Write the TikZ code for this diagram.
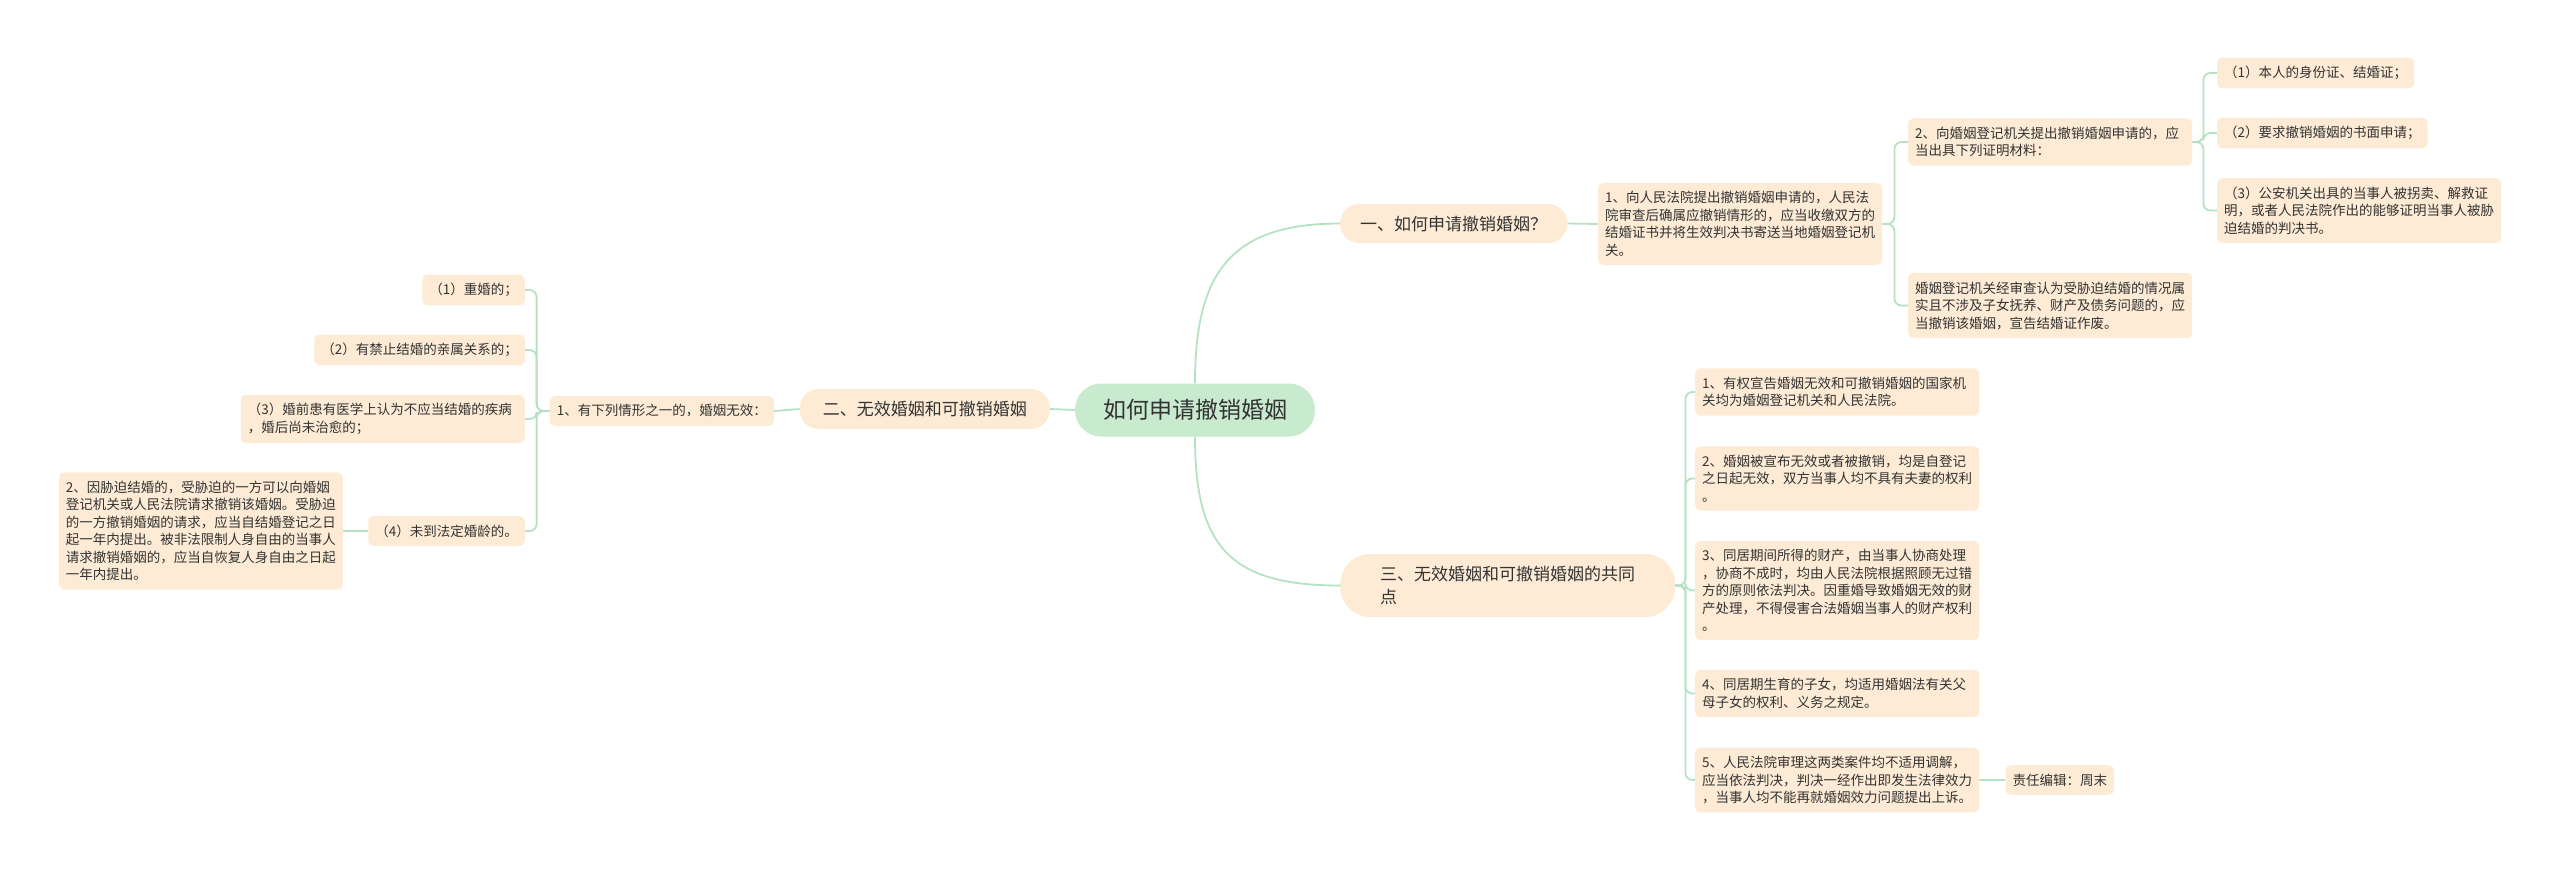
\documentclass[tikz,border=0pt]{standalone}
\usepackage{fontspec}
\setmainfont{Noto Sans CJK SC}
\usetikzlibrary{positioning}
\definecolor{peach}{HTML}{FDEBD5}
\definecolor{mint}{HTML}{C8EACE}
\definecolor{wire}{HTML}{B6E2C4}
\definecolor{ink}{HTML}{333333}

\begin{document}
\begin{tikzpicture}[x=1pt, y=-1pt,
  leaf/.style={fill=peach, rounded corners=5pt, inner xsep=7pt, inner ysep=8.5pt, align=left, text=ink, font=\fontsize{13.5pt}{17.5pt}\selectfont},
  longleaf/.style={leaf, text width=270pt},
  topic/.style={fill=peach, rounded corners=19pt, inner sep=0pt, align=left, text=ink, font=\fontsize{17pt}{23pt}\selectfont},
  link/.style={draw=wire, line width=1.8pt, rounded corners=7pt}]
  \useasboundingbox (0,0) rectangle (2560,871);

  \node (root) [fill=mint, rounded corners=26pt, minimum width=240pt, minimum height=53pt, text=ink, font=\fontsize{23pt}{28pt}\selectfont] at (1195,410) {如何申请撤销婚姻};

  \node (how) [topic, anchor=west, minimum width=227pt, minimum height=39pt] at (1340,223.5) {一、如何申请撤销婚姻？};
  \node (kinds) [topic, anchor=east, minimum width=250pt, minimum height=40pt] at (1050,409) {二、无效婚姻和可撤销婚姻};
  \node (common) [topic, anchor=west, rounded corners=30pt, minimum width=335pt, minimum height=63pt] at (1340,585.5) {三、无效婚姻和可撤销婚姻的共同\\点};

  \node (court) [longleaf, anchor=west] at (1598,224) {1、向人民法院提出撤销婚姻申请的，人民法\\院审查后确属应撤销情形的，应当收缴双方的\\结婚证书并将生效判决书寄送当地婚姻登记机\\关。};
  \node (office) [longleaf, anchor=west] at (1908,142) {2、向婚姻登记机关提出撤销婚姻申请的，应\\当出具下列证明材料：};
  \node (review) [longleaf, anchor=west] at (1908,305.5) {婚姻登记机关经审查认为受胁迫结婚的情况属\\实且不涉及子女抚养、财产及债务问题的，应\\当撤销该婚姻，宣告结婚证作废。};
  \node (idcard) [leaf, anchor=west] at (2217,73) {（1）本人的身份证、结婚证；};
  \node (letter) [leaf, anchor=west] at (2217,133) {（2）要求撤销婚姻的书面申请；};
  \node (proof) [longleaf, anchor=west] at (2217,210.5) {（3）公安机关出具的当事人被拐卖、解救证\\明，或者人民法院作出的能够证明当事人被胁\\迫结婚的判决书。};

  \node (void) [leaf, anchor=east] at (774,411) {1、有下列情形之一的，婚姻无效：};
  \node (bigamy) [leaf, anchor=east] at (525,290) {（1）重婚的；};
  \node (kin) [leaf, anchor=east] at (525,350) {（2）有禁止结婚的亲属关系的；};
  \node (ill) [longleaf, anchor=east] at (525,419) {（3）婚前患有医学上认为不应当结婚的疾病\\，婚后尚未治愈的；};
  \node (age) [leaf, anchor=east] at (525,531) {（4）未到法定婚龄的。};
  \node (duress) [longleaf, anchor=east] at (343,531) {2、因胁迫结婚的，受胁迫的一方可以向婚姻\\登记机关或人民法院请求撤销该婚姻。受胁迫\\的一方撤销婚姻的请求，应当自结婚登记之日\\起一年内提出。被非法限制人身自由的当事人\\请求撤销婚姻的，应当自恢复人身自由之日起\\一年内提出。};

  \node (organ) [longleaf, anchor=west] at (1695,392) {1、有权宣告婚姻无效和可撤销婚姻的国家机\\关均为婚姻登记机关和人民法院。};
  \node (nullity) [longleaf, anchor=west] at (1695,478.5) {2、婚姻被宣布无效或者被撤销，均是自登记\\之日起无效，双方当事人均不具有夫妻的权利\\。};
  \node (property) [longleaf, anchor=west] at (1695,590.5) {3、同居期间所得的财产，由当事人协商处理\\，协商不成时，均由人民法院根据照顾无过错\\方的原则依法判决。因重婚导致婚姻无效的财\\产处理，不得侵害合法婚姻当事人的财产权利\\。};
  \node (children) [longleaf, anchor=west] at (1695,693.5) {4、同居期生育的子女，均适用婚姻法有关父\\母子女的权利、义务之规定。};
  \node (appeal) [longleaf, anchor=west] at (1695,780) {5、人民法院审理这两类案件均不适用调解，\\应当依法判决，判决一经作出即发生法律效力\\，当事人均不能再就婚姻效力问题提出上诉。};
  \node (editor) [leaf, right=26pt of appeal] {责任编辑：周末};

  \draw[link] (root.north) .. controls +(0,-110) and +(-110,0) .. (how.west);
  \draw[link] (root.south) .. controls +(0,110) and +(-110,0) .. (common.west);
  \draw[link] (root.west) -- (kinds.east);

  \draw[link] (how.east) -- (court.west);
  \foreach \n in {office,review}
    \draw[link] (court.east) -- ++(12,0) |- (\n.west);
  \foreach \n in {idcard,letter,proof}
    \draw[link] (office.east) -- ++(11,0) |- (\n.west);

  \draw[link] (kinds.west) -- (void.east);
  \foreach \n in {bigamy,kin,ill,age}
    \draw[link] (void.west) -- ++(-13,0) |- (\n.east);
  \draw[link] (age.west) -- (duress.east);

  \foreach \n in {organ,nullity,property,children,appeal}
    \draw[link] (common.east) -- ++(10,0) |- (\n.west);
  \draw[link] (appeal.east) -- (editor.west);
\end{tikzpicture}
\end{document}
